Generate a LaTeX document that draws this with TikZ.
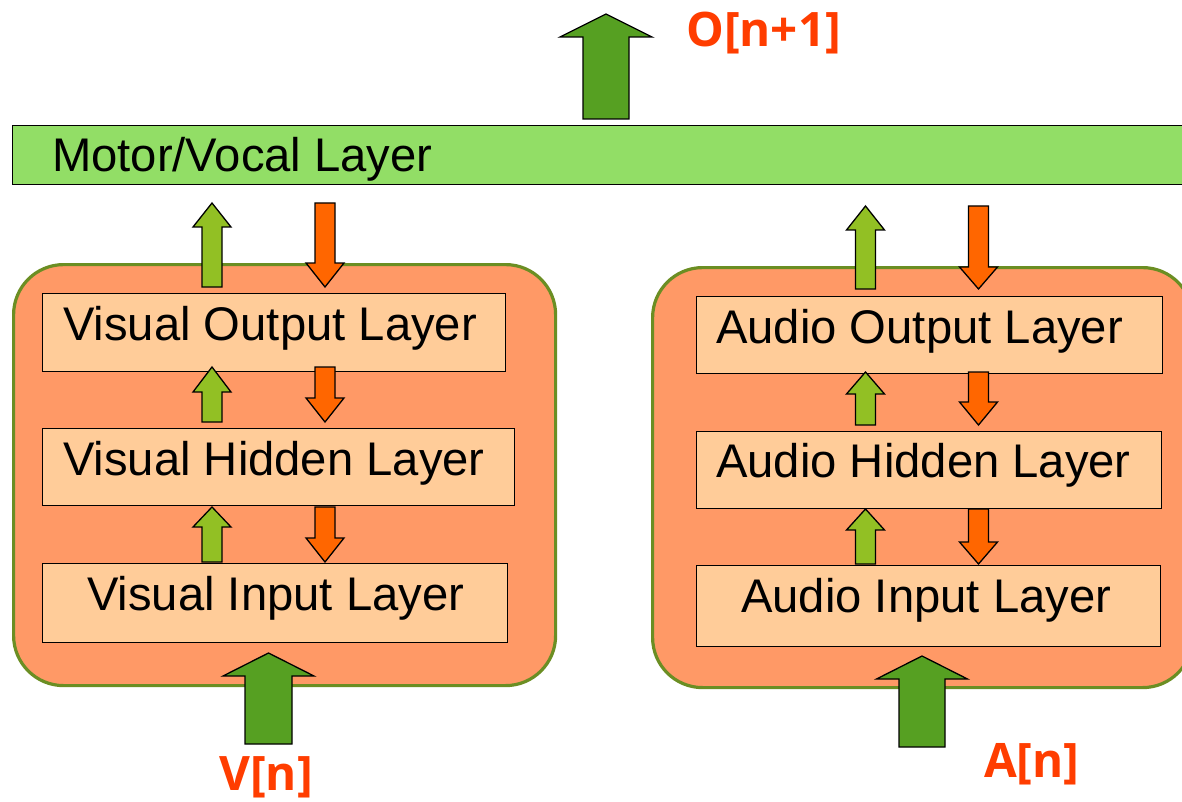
\documentclass[tikz,border=0pt]{standalone}
\usepackage{fontspec}
\setmainfont{Liberation Sans}
\newfontfamily\labfont{Open Sans}
\definecolor{outerfill}{RGB}{255,153,102}
\definecolor{outerline}{RGB}{107,142,35}
\definecolor{innerfill}{RGB}{255,204,153}
\definecolor{motorfill}{RGB}{146,222,102}
\definecolor{lightgreen}{RGB}{146,192,36}
\definecolor{darkgreen}{RGB}{86,160,34}
\definecolor{orangearr}{RGB}{255,102,0}
\definecolor{lblcol}{RGB}{255,61,0}
\tikzset{
  outerbox/.style={draw=outerline, line width=3.2pt, fill=outerfill, rounded corners=50pt, anchor=north west, inner sep=0pt},
  layerbox/.style={draw=black, line width=1.3pt, fill=innerfill, anchor=north west, inner sep=0pt},
  layertext/.style={anchor=base west, inner sep=0pt, font=\fontsize{47.2}{50}\selectfont},
  lbl/.style={anchor=base west, inner sep=0pt, text=lblcol, font=\labfont\bfseries\fontsize{47.5}{50}\selectfont},
  blk/.style={draw=black, line width=1.3pt, line join=miter}
}
% xc, tip, headbase, bottom, shafthalf, headhalf, colour
\newcommand\blkup[7]{%
  \filldraw[blk, fill=#7] (#1,#2) -- (#1+#6,#3) -- (#1+#5,#3) -- (#1+#5,#4) -- (#1-#5,#4) -- (#1-#5,#3) -- (#1-#6,#3) -- cycle;}
% xc, top, headbase, tip, shafthalf, headhalf, colour
\newcommand\blkdown[7]{%
  \filldraw[blk, fill=#7] (#1-#5,#2) -- (#1+#5,#2) -- (#1+#5,#3) -- (#1+#6,#3) -- (#1,#4) -- (#1-#6,#3) -- (#1-#5,#3) -- cycle;}
\begin{document}
\begin{tikzpicture}[x=1pt,y=-1pt]
\useasboundingbox (0,0) rectangle (1182,802);
\clip (0,0) rectangle (1182,802);

% motor layer
\node[draw, line width=1.3pt, fill=motorfill, anchor=north west, inner sep=0pt, minimum width=1185pt, minimum height=59pt] (motor) at (12,125) {};
\node[layertext] (motortxt) at (52,171.7) {Motor/Vocal Layer};

% outer modules
\node[outerbox, minimum width=542pt, minimum height=421pt] (visual) at (12,263) {};
\node[outerbox, minimum width=540pt, minimum height=420pt] (audio) at (651,266) {};

% visual layers
\node[layerbox, minimum width=463pt, minimum height=78pt] (vout) at (42,293) {};
\node[layerbox, minimum width=472pt, minimum height=77pt] (vhid) at (42,428) {};
\node[layerbox, minimum width=465pt, minimum height=79pt] (vin) at (42,563) {};
\node[layertext] (vouttxt) at (63,340) {Visual Output Layer};
\node[layertext] (vhidtxt) at (63,475) {Visual Hidden Layer};
\node[layertext] (vintxt) at (87,610) {Visual Input Layer};

% audio layers
\node[layerbox, minimum width=466pt, minimum height=77pt] (aout) at (696,296) {};
\node[layerbox, minimum width=465pt, minimum height=77pt] (ahid) at (696,431) {};
\node[layerbox, minimum width=464pt, minimum height=81pt] (ain) at (696,565) {};
\node[layertext] (aouttxt) at (716,343) {Audio Output Layer};
\node[layertext] (ahidtxt) at (716,477) {Audio Hidden Layer};
\node[layertext] (aintxt) at (741,612) {Audio Input Layer};

% visual column arrows
\blkup{212}{203}{227}{287}{10}{19}{lightgreen}
\blkdown{325}{203}{263}{287}{10}{19}{orangearr}
\blkup{212}{367}{392}{422}{10}{19}{lightgreen}
\blkdown{325}{367}{398}{422}{10}{19}{orangearr}
\blkup{212}{507}{527}{562}{10}{19}{lightgreen}
\blkdown{325}{507}{538}{562}{10}{19}{orangearr}

% audio column arrows
\blkup{865.5}{206}{230}{289}{10}{19}{lightgreen}
\blkdown{978.5}{206}{267}{289}{10}{19}{orangearr}
\blkup{865.5}{372}{394}{425}{10}{19}{lightgreen}
\blkdown{978.5}{372}{402}{425}{10}{19}{orangearr}
\blkup{865.5}{509}{530}{564}{10}{19}{lightgreen}
\blkdown{978.5}{509}{542}{564}{10}{19}{orangearr}

% big input/output arrows
\blkup{606}{14}{37}{119}{23}{46}{darkgreen}
\blkup{268.5}{653}{676}{744}{23.5}{45.5}{darkgreen}
\blkup{922}{656}{679}{747}{23}{45.5}{darkgreen}

% labels
\node[lbl] (olbl) at (686,47) {O[n+1]};
\node[lbl] (vlbl) at (219,790) {V[n]};
\node[lbl] (albl) at (984,777) {A[n]};
\end{tikzpicture}
\end{document}
